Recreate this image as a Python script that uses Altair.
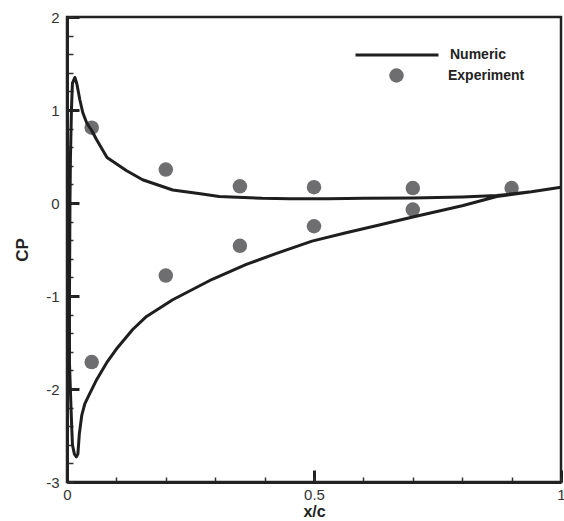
import altair as alt
import pandas as pd

# Numeric Cp curve, in path order (TE -> pressure side -> LE -> suction side -> TE)
num_x = [1.0, 0.94, 0.87, 0.80, 0.70, 0.60, 0.53, 0.45, 0.395, 0.308, 0.27, 0.214,
         0.153, 0.12, 0.081, 0.06, 0.05, 0.04, 0.032, 0.026, 0.02, 0.016, 0.011,
         0.009, 0.007, 0.006, 0.005, 0.005, 0.0085, 0.011, 0.015, 0.019, 0.022,
         0.025, 0.03, 0.036, 0.045, 0.06, 0.08, 0.10, 0.133, 0.161, 0.214, 0.294,
         0.363, 0.43, 0.496, 0.565, 0.63, 0.70, 0.80, 0.87, 0.94, 1.0]
num_cp = [0.17, 0.12, 0.08, 0.065, 0.055, 0.05, 0.045, 0.045, 0.05, 0.07, 0.10, 0.14,
          0.25, 0.35, 0.49, 0.68, 0.78, 0.86, 0.97, 1.11, 1.28, 1.35, 1.29,
          1.0, 0.5, 0.0, -1.0, -1.72, -2.26, -2.6, -2.7, -2.73, -2.7,
          -2.48, -2.28, -2.16, -2.06, -1.9, -1.72, -1.57, -1.36, -1.22, -1.04, -0.82,
          -0.66, -0.53, -0.41, -0.32, -0.24, -0.15, -0.03, 0.07, 0.12, 0.17]

# Experiment points
exp_x = [0.05, 0.2, 0.35, 0.5, 0.7, 0.9, 0.05, 0.2, 0.35, 0.5, 0.7]
exp_cp = [0.81, 0.36, 0.18, 0.17, 0.16, 0.16, -1.71, -0.78, -0.46, -0.25, -0.07]

x_major = [0, 0.5, 1]
x_minor = [round(i * 0.1, 1) for i in range(11)]
y_major = [-3, -2, -1, 0, 1, 2]
y_minor = [round(-3 + i * 0.2, 1) for i in range(26)]

W, H = 494, 465
num_df = pd.DataFrame({"x": num_x, "cp": num_cp, "order": range(len(num_x)),
                       "series": ["Numeric"] * len(num_x)})
exp_df = pd.DataFrame({"x": exp_x, "cp": exp_cp, "series": ["Experiment"] * len(exp_x)})

xs = alt.Scale(domain=[0, 1], nice=False, zero=False)
ys = alt.Scale(domain=[-3, 2], nice=False, zero=False)
FONT = "Liberation Sans"
LBL = "'' + datum.value"

line = alt.Chart(num_df).mark_line(strokeWidth=3, strokeJoin="round").encode(
    x=alt.X("x:Q", scale=xs, axis=alt.Axis(
        orient="bottom", values=x_major, ticks=False, title="x/c", labelFontSize=15,
        labelPadding=5, titleFontSize=16, titleFontWeight="bold", titlePadding=1,
        domainWidth=3, domainColor="#222", labelColor="#333", titleColor="#222",
        labelFont=FONT, titleFont=FONT, grid=False, labelFlush=False, labelExpr=LBL)),
    y=alt.Y("cp:Q", scale=ys, axis=alt.Axis(
        orient="left", values=y_major, ticks=False, title="CP", labelFontSize=15,
        labelPadding=8, titleFontSize=17, titleFontWeight="bold", titlePadding=14,
        domainWidth=3, domainColor="#222", labelColor="#333", titleColor="#222",
        labelFont=FONT, titleFont=FONT, grid=False, labelFlush=False, labelExpr=LBL)),
    order="order:Q",
    stroke=alt.Stroke("series:N", scale=alt.Scale(domain=["Numeric"], range=["#1e1e1e"]),
                      legend=alt.Legend(orient="none", legendX=287, legendY=-5, title=None,
                                        symbolType="stroke", symbolSize=6889,
                                        symbolStrokeWidth=3, labelOffset=10,
                                        labelFont=FONT, labelFontSize=14,
                                        labelFontWeight="bold", labelColor="#222",
                                        padding=0)),
)

pts = alt.Chart(exp_df).mark_point(filled=True, size=210, opacity=1, shape="circle").encode(
    x=alt.X("x:Q", scale=xs, axis=alt.Axis(
        orient="top", offset=-H, values=x_minor, labels=False, domain=False, title=None,
        tickSize=5, tickWidth=1.5, tickColor="#333", grid=False)),
    y=alt.Y("cp:Q", scale=ys, axis=alt.Axis(
        orient="right", offset=-W, values=y_minor, labels=False, domain=False, title=None,
        tickSize=6, tickWidth=1.5, tickColor="#333", grid=False)),
    fill=alt.Fill("series:N", scale=alt.Scale(domain=["Experiment"], range=["#6e6e70"]),
                  legend=alt.Legend(orient="none", legendX=322, legendY=51, title=None,
                                    symbolType="circle", symbolSize=210, labelOffset=44,
                                    labelFont=FONT, labelFontSize=14,
                                    labelFontWeight="bold", labelColor="#222",
                                    symbolStrokeWidth=0, padding=0)),
)

major = alt.Chart(exp_df).mark_point(opacity=0).encode(
    x=alt.X("x:Q", scale=xs, axis=alt.Axis(
        orient="top", offset=-H, values=x_major, labels=False, domain=False, title=None,
        tickSize=12, tickWidth=3, tickColor="#222", grid=False)),
    y=alt.Y("cp:Q", scale=ys, axis=alt.Axis(
        orient="right", offset=-W, values=y_major, labels=False, domain=False, title=None,
        tickSize=12, tickWidth=3, tickColor="#222", grid=False)),
)

chart = alt.layer(major, pts, line).resolve_axis(
    x="independent", y="independent"
).properties(
    width=W, height=H,
    autosize=alt.AutoSizeParams(type="none"),
    padding={"left": 67, "top": 17, "right": 3, "bottom": 39},
    background="white",
).configure_view(stroke="#222", strokeWidth=2.5)

chart.save("out.html", embed_options={"renderer": "svg", "actions": False})
